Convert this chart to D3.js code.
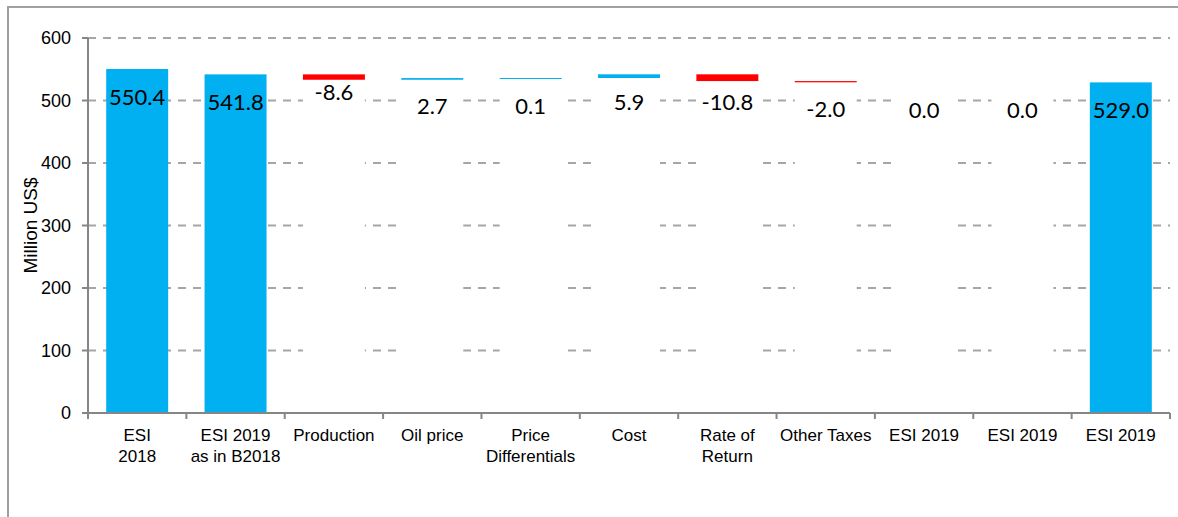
<!DOCTYPE html>
<html>
<head>
<meta charset="utf-8">
<script src="https://cdn.jsdelivr.net/npm/d3@7"></script>
<style>
  body { margin: 0; background: #fff; }
  svg { display: block; }
</style>
</head>
<body>
<div id="graph"></div>
<script>
// waterfall data
var categories = ["ESI\n2018", "ESI 2019\nas in B2018", "Production", "Oil price", "Price\nDifferentials",
  "Cost", "Rate of\nReturn", "Other Taxes", "ESI 2019", "ESI 2019", "ESI 2019"];
var values = [550.4, 541.8, -8.6, 2.7, 0.1, 5.9, -10.8, -2.0, 0.0, 0.0, 529.0];
var kinds = ["total", "total", "delta", "delta", "delta", "delta", "delta", "delta", "delta", "delta", "total"];
var yTicks = [0, 100, 200, 300, 400, 500, 600];

var width = 1178, height = 517;
var margin = {left: 88, right: 8, top: 38, bottom: 104};

var svg = d3.select('#graph').append('svg')
  .attr('width', width)
  .attr('height', height);

// outer frame
svg.append('rect')
  .attr('x', 8).attr('y', 7)
  .attr('width', 1200).attr('height', 600)
  .attr('fill', 'none')
  .attr('stroke', '#a0a0a0')
  .attr('stroke-width', 2);

var x = d3.scaleBand()
  .domain(d3.range(categories.length))
  .range([margin.left, width - margin.right])
  .paddingInner(0.37)
  .paddingOuter(0.185);

var y = d3.scaleLinear()
  .domain([0, 600])
  .range([height - margin.bottom, margin.top]);

// build the waterfall steps
var running = 0;
var steps = values.map(function (v, i) {
  var d = {i: i, value: v, kind: kinds[i]};
  if (kinds[i] == 'total') {
    d.base = 0; d.top = v; running = v;
  } else {
    var next = running + v;
    d.base = Math.min(running, next);
    d.top = Math.max(running, next);
    running = next;
  }
  return d;
});

// gridlines
svg.append('g').selectAll('line')
  .data(yTicks.filter(function (t) { return t > 0; }))
  .enter().append('line')
  .attr('x1', margin.left).attr('x2', width - margin.right)
  .attr('y1', function (t) { return y(t); })
  .attr('y2', function (t) { return y(t); })
  .attr('stroke', '#a6a6a6')
  .attr('stroke-width', 2)
  .attr('stroke-dasharray', '8,7');

// invisible (white) base bars hide the grid below the steps
svg.append('g').selectAll('rect')
  .data(steps.filter(function (d) { return d.kind == 'delta'; }))
  .enter().append('rect')
  .attr('x', function (d) { return x(d.i); })
  .attr('width', x.bandwidth())
  .attr('y', function (d) { return y(d.base); })
  .attr('height', function (d) { return y(0) - y(d.base); })
  .attr('fill', '#fff');

// visible bars
svg.append('g').selectAll('rect')
  .data(steps.filter(function (d) { return d.value != 0; }))
  .enter().append('rect')
  .attr('x', function (d) { return x(d.i); })
  .attr('width', x.bandwidth())
  .attr('y', function (d) { return y(d.top); })
  .attr('height', function (d) { return Math.max(y(d.base) - y(d.top), 1); })
  .attr('fill', function (d) { return d.value < 0 ? '#ff0000' : '#00b0f0'; });

// axes
var axisColor = '#868686';
svg.append('line')
  .attr('x1', margin.left).attr('x2', margin.left)
  .attr('y1', y(600)).attr('y2', y(0))
  .attr('stroke', axisColor).attr('stroke-width', 2);
svg.append('line')
  .attr('x1', margin.left).attr('x2', width - margin.right)
  .attr('y1', y(0)).attr('y2', y(0))
  .attr('stroke', axisColor).attr('stroke-width', 2);

var yt = svg.append('g').selectAll('g')
  .data(yTicks).enter().append('g');
yt.append('line')
  .attr('x1', margin.left - 6).attr('x2', margin.left)
  .attr('y1', function (t) { return y(t); })
  .attr('y2', function (t) { return y(t); })
  .attr('stroke', axisColor).attr('stroke-width', 2);
yt.append('text')
  .attr('x', 71)
  .attr('y', function (t) { return y(t); })
  .attr('dy', '0.35em')
  .attr('text-anchor', 'end')
  .style('font-family', 'Liberation Sans, Arial, sans-serif')
  .style('font-size', '18px')
  .attr('fill', '#000')
  .text(function (t) { return t; });

// category boundary ticks
var step = x.step();
svg.append('g').selectAll('line')
  .data(d3.range(categories.length + 1))
  .enter().append('line')
  .attr('x1', function (i) { return margin.left + i * (width - margin.right - margin.left) / categories.length; })
  .attr('x2', function (i) { return margin.left + i * (width - margin.right - margin.left) / categories.length; })
  .attr('y1', y(0)).attr('y2', y(0) + 6)
  .attr('stroke', axisColor).attr('stroke-width', 2);

// category labels
var cl = svg.append('g').selectAll('text')
  .data(categories).enter().append('text')
  .attr('text-anchor', 'middle')
  .style('font-family', 'Liberation Sans, Arial, sans-serif')
  .style('font-size', '17px')
  .attr('fill', '#000');
cl.each(function (c, i) {
  var t = d3.select(this);
  c.split('\n').forEach(function (line, k) {
    t.append('tspan')
      .attr('x', x(i) + x.bandwidth() / 2)
      .attr('y', 435 + k * 21)
      .attr('dy', '0.35em')
      .text(line);
  });
});

// y axis title
svg.append('text')
  .attr('transform', 'translate(30,' + ((y(0) + y(600)) / 2) + ') rotate(-90)')
  .attr('text-anchor', 'middle')
  .attr('dy', '0.35em')
  .style('font-family', 'Liberation Sans, Arial, sans-serif')
  .style('font-size', '19px')
  .attr('fill', '#000')
  .text('Million US$');

// value labels
svg.append('g').selectAll('text')
  .data(steps).enter().append('text')
  .attr('x', function (d) { return x(d.i) + x.bandwidth() / 2; })
  .attr('y', function (d) { return y(d.top) + (d.i == 2 ? 18 : 28); })
  .attr('dy', '0.35em')
  .attr('text-anchor', 'middle')
  .style('font-family', 'Lato, sans-serif')
  .style('font-size', '22px')
  .attr('fill', '#000')
  .text(function (d) { return d.value.toFixed(1); });
</script>
</body>
</html>
